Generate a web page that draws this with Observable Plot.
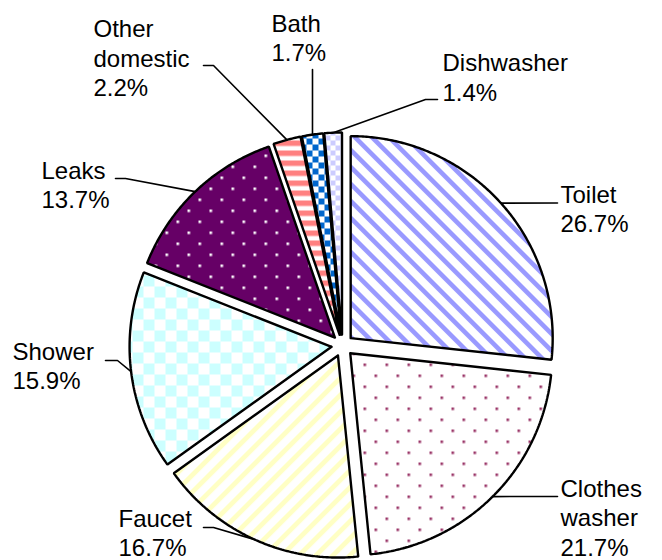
<!DOCTYPE html>
<html>
<head>
<meta charset="utf-8">
<script src="https://cdn.jsdelivr.net/npm/d3@7"></script>
<script src="https://cdn.jsdelivr.net/npm/@observablehq/plot@0.6"></script>
<style>
  html, body { margin: 0; padding: 0; background: #fff; }
  svg { display: block; }
</style>
</head>
<body>
<div id="chart"></div>
<script>
// ---- data ----
const categories = ["Toilet", "Clothes washer", "Faucet", "Shower", "Leaks", "Other domestic", "Bath", "Dishwasher"];
const shares = [26.7, 21.7, 16.7, 15.9, 13.7, 2.2, 1.7, 1.4];
const nameLines = [["Toilet"], ["Clothes", "washer"], ["Faucet"], ["Shower"], ["Leaks"], ["Other", "domestic"], ["Bath"], ["Dishwasher"]];

// ---- layout (pixels) ----
const W = 662, H = 560;
const CX = 342, CY = 345, R = 202, EXPLODE = 11, LINE_GAP = 29.5, FONT = 24;
const labelLayout = [
  {x: 560, y: 202, leader: [[557, 202.5]]},
  {x: 560, y: 496, leader: [[557, 496]]},
  {x: 118, y: 526, leader: [[213, 527], [203, 527]]},
  {x: 12,  y: 359, leader: [[117, 360], [105, 360]]},
  {x: 41,  y: 178, leader: [[125, 178], [115, 178]]},
  {x: 93,  y: 36.5, leader: [[213, 65], [203, 65]]},
  {x: 271, y: 31, leader: [[312, 69]]},
  {x: 442, y: 70.5, leader: [[425, 99], [437, 99]]}
];
// pixel -> data coordinates (origin at pie centre, y up)
const px = (x, y) => [x - CX, CY - y];

// ---- geometry from data ----
const total = d3.sum(shares);
let acc = 0;
const slices = shares.map((v, i) => {
  const a0 = acc / total * 2 * Math.PI; acc += v;
  const a1 = acc / total * 2 * Math.PI;
  const mid = (a0 + a1) / 2;
  const ox = EXPLODE * Math.sin(mid), oy = EXPLODE * Math.cos(mid);
  const n = Math.max(3, Math.ceil((a1 - a0) / (Math.PI / 360)));
  const pts = [[ox, oy]];
  for (let k = 0; k <= n; k++) {
    const a = a0 + (a1 - a0) * k / n;
    pts.push([ox + R * Math.sin(a), oy + R * Math.cos(a)]);
  }
  pts.push([ox, oy]);
  return {name: categories[i], value: v, pts, arcMid: [ox + R * Math.sin(mid), oy + R * Math.cos(mid)]};
});

const leaders = slices.map((s, i) => [s.arcMid, ...labelLayout[i].leader.map(([x, y]) => px(x, y))]);

const textRows = [];
slices.forEach((s, i) => {
  const lines = [...nameLines[i], `${s.value.toFixed(1)}%`];
  lines.forEach((t, j) => {
    const [x, y] = px(labelLayout[i].x, labelLayout[i].y + j * LINE_GAP);
    textRows.push({x, y, t});
  });
});

const marks = [];
slices.forEach((s, i) => {
  marks.push(Plot.line(s.pts, {
    x: d => d[0], y: d => d[1],
    fill: `url(#pat${i})`, stroke: "black", strokeWidth: 2.4,
    strokeLinejoin: "miter", curve: "linear"
  }));
});
leaders.forEach(L => {
  marks.push(Plot.line(L, {x: d => d[0], y: d => d[1], stroke: "black", strokeWidth: 1.6, strokeLinejoin: "miter"}));
});
marks.push(Plot.text(textRows, {
  x: "x", y: "y", text: "t", textAnchor: "start", lineAnchor: "bottom",
  fontSize: FONT, fill: "black"
}));

const svg = Plot.plot({
  width: W, height: H,
  margin: 0,
  x: {domain: [-CX, W - CX], range: [0, W], axis: null},
  y: {domain: [CY - H, CY], range: [H, 0], axis: null},
  style: {fontFamily: "'Liberation Sans', Arial, sans-serif", background: "#fff", overflow: "visible"},
  marks
});

// ---- fill patterns ----
const defs = d3.select(svg).insert("defs", ":first-child");
function pattern(id, w, h, bg, transform) {
  const p = defs.append("pattern").attr("id", id)
    .attr("patternUnits", "userSpaceOnUse").attr("width", w).attr("height", h);
  if (transform) p.attr("patternTransform", transform);
  p.append("rect").attr("width", w).attr("height", h).attr("fill", bg);
  return p;
}
function rect(p, x, y, w, h, c) { p.append("rect").attr("x", x).attr("y", y).attr("width", w).attr("height", h).attr("fill", c); }

// Toilet: wide downward diagonal stripes
{ const s = 17 / Math.SQRT2; const p = pattern("pat0", s, s, "#fff", "rotate(45)"); rect(p, 0, 0, s, s * 0.38, "#9999FF"); }
// Clothes washer: dotted
{ const p = pattern("pat1", 22, 22, "#fff"); rect(p, 0, 0, 2.6, 2.6, "#993366"); rect(p, 11, 11, 2.6, 2.6, "#993366"); }
// Faucet: wide upward diagonal stripes
{ const s = 17 / Math.SQRT2; const p = pattern("pat2", s, s, "#fff", "rotate(-45)"); rect(p, 0, 0, s, s * 0.4, "#FFFFC4"); }
// Shower: large checkerboard
{ const p = pattern("pat3", 22, 22, "#fff"); rect(p, 0, 0, 11, 11, "#CCFFFF"); rect(p, 11, 11, 11, 11, "#CCFFFF"); }
// Leaks: dark purple with white dots
{ const p = pattern("pat4", 22, 22, "#660066"); rect(p, 0, 0, 2.6, 2.6, "#fff"); rect(p, 11, 11, 2.6, 2.6, "#fff"); }
// Other domestic: horizontal stripes
{ const p = pattern("pat5", 10, 10, "#fff"); rect(p, 0, 0, 10, 5.5, "#FF8080"); }
// Bath: blue checkerboard
{ const p = pattern("pat6", 12, 12, "#fff"); rect(p, 0, 0, 6, 6, "#0066CC"); rect(p, 6, 6, 6, 6, "#0066CC"); }
// Dishwasher: small lavender checker
{ const p = pattern("pat7", 10, 10, "#fff"); rect(p, 0, 0, 5, 5, "#CCCCFF"); rect(p, 5, 5, 5, 5, "#CCCCFF"); }

document.getElementById("chart").appendChild(svg);
</script>
</body>
</html>
